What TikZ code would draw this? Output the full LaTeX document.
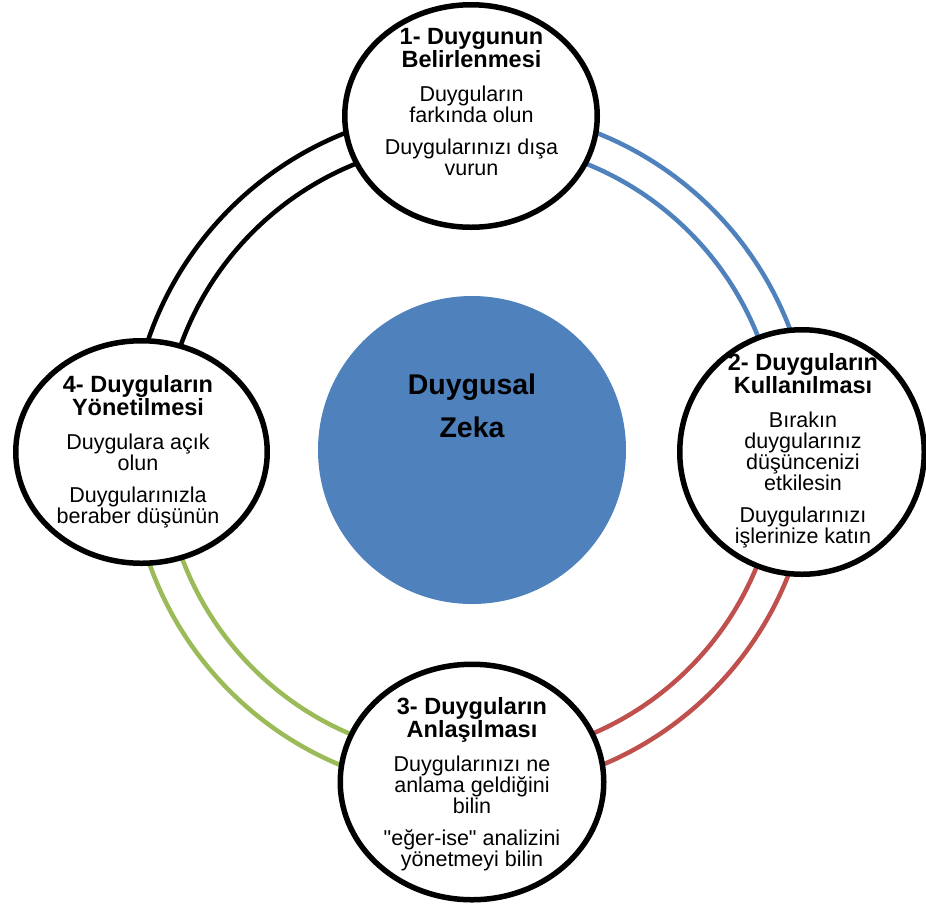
\documentclass[tikz,border=0pt]{standalone}
\usepackage{fontspec}
% a family without the TeX quote mapping, so that " stays a straight quote
\newfontfamily\stgfont{Liberation Sans}
\setmainfont{Liberation Sans}
\usetikzlibrary{shapes.geometric,calc}
\definecolor{accentblue}{HTML}{4F81BD}
\definecolor{accentred}{HTML}{C0504D}
\definecolor{accentgreen}{HTML}{9BBB59}
% fixed word spaces, as in the stage captions
\newcommand\stgspace{\spaceskip=0.2778em\relax\xspaceskip=0.2778em\relax}
\newcommand\stghead{\stgfont\fontsize{23.5}{23}\selectfont\bfseries\stgspace}
\newcommand\stgbody{\stgfont\fontsize{21.5}{21.3}\selectfont\stgspace}
\newcommand\stggap{\vspace{12.7pt}}
\newcommand\stgpar{\vspace{10.2pt}}
\begin{document}
\begin{tikzpicture}[x=1pt,y=-1pt,
  stage/.style={ellipse, draw=black, line width=5.5pt, fill=white, inner sep=0pt},
  ring/.style={line width=4.5pt},
  caption/.style={anchor=base, text width=260pt, align=center, inner sep=0pt},
]
\useasboundingbox (0,0) rectangle (926,906);

% centre of the ring of stages
\coordinate (hub) at (471,450);

% double arcs joining neighbouring stages
\foreach \r in {341,308.5}{
  \draw[ring, accentblue]  ($(hub)+(-90:\r)$) arc[start angle=-90, end angle=0,   radius=\r];
  \draw[ring, accentred]   ($(hub)+(0:\r)$)   arc[start angle=0,   end angle=90,  radius=\r];
  \draw[ring, accentgreen] ($(hub)+(90:\r)$)  arc[start angle=90,  end angle=180, radius=\r];
  \draw[ring, black]       ($(hub)+(180:\r)$) arc[start angle=180, end angle=270, radius=\r];
}

% central disc
\node[circle, fill=accentblue, minimum size=308pt, inner sep=0pt] (core) at (472,450) {};
\node[anchor=base, align=center, inner sep=0pt, font=\stgfont\fontsize{28.5}{43}\selectfont\bfseries] (coretext) at (472,437)
  {Duygusal\\Zeka};

% the four stages
\node[stage, minimum width=252.5pt, minimum height=222.5pt] (s1) at (471,116) {};
\node[stage, minimum width=244.5pt, minimum height=244.5pt] (s2) at (802,452) {};
\node[stage, minimum width=263.5pt, minimum height=235.5pt] (s3) at (472,782) {};
\node[stage, minimum width=251.5pt, minimum height=222.5pt] (s4) at (141.5,452) {};

\node[caption] (t1) at (471.5,44.3) {%
  {\stghead 1- Duygunun\\Belirlenmesi\par}\stggap
  {\stgbody Duyguların\\farkında olun\par}\stgpar
  {\stgbody Duygularınızı dışa\\vurun\par}};

\node[caption] (t2) at (803,370) {%
  {\stghead 2- Duyguların\\Kullanılması\par}\stggap
  {\stgbody Bırakın\\duygularınız\\düşüncenizi\\etkilesin\par}\stgpar
  {\stgbody Duygularınızı\\işlerinize katın\par}};

\node[caption] (t3) at (472,714) {%
  {\stghead 3- Duyguların\\Anlaşılması\par}\stggap
  {\stgbody Duygularınızı ne\\anlama geldiğini\\bilin\par}\stgpar
  {\stgbody "eğer-ise" analizini\\yönetmeyi bilin\par}};

\node[caption] (t4) at (138,392.3) {%
  {\stghead 4- Duyguların\\Yönetilmesi\par}\stggap
  {\stgbody Duygulara açık\\olun\par}\stgpar
  {\stgbody Duygularınızla\\beraber düşünün\par}};
\end{tikzpicture}
\end{document}
